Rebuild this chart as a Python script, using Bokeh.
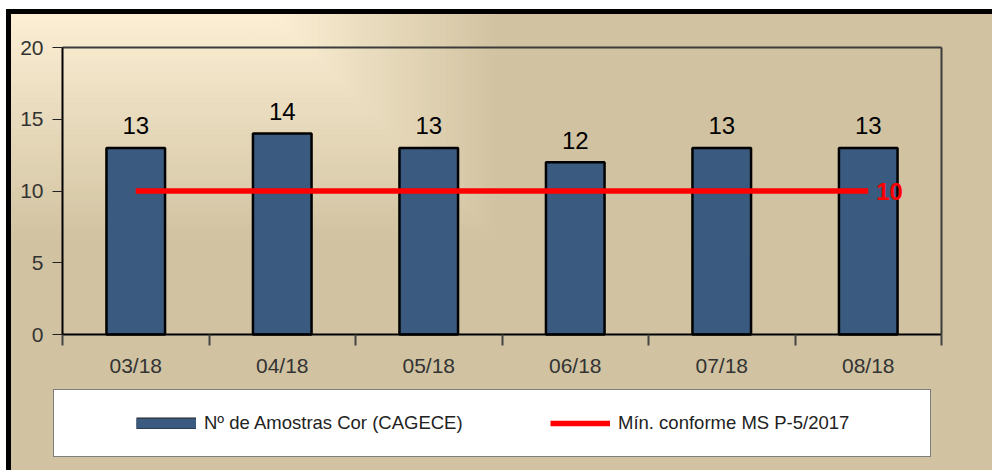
from bokeh.plotting import figure
from bokeh.models import Range1d, FixedTicker, Legend, LegendItem, LinearAxis
from bokeh.core.properties import value
from bokeh.embed import file_html
from bokeh.resources import INLINE

# ---- data ----
categories = ["03/18", "04/18", "05/18", "06/18", "07/18", "08/18"]
amostras = [13, 14, 13, 12, 13, 13]
minimo = [10, 10, 10, 10, 10, 10]
y_ticks = [0, 5, 10, 15, 20]
serie_bar = "Nº de Amostras Cor (CAGECE)"
serie_line = "Mín. conforme MS P-5/2017"

FONT = "Liberation Sans"
BAR = "#3B5A80"
FRAME = "#3c3c3c"

n = len(categories)
ymax = y_ticks[-1]
x = [i + 0.5 for i in range(n)]
bounds = list(range(n + 1))

# ---- layout geometry (canvas 986x461, plot area 51..930 x 33..320) ----
W, H = 986, 461
PL, PR, PT, PB = 51, 930, 33, 320
sx = (PR - PL) / n
sy = (PB - PT) / ymax
x_range = Range1d(-PL / sx, n + (W - PR) / sx)
y_range = Range1d(-(H - PB) / sy, ymax + PT / sy)

# ---- stepped rectangular background gradient (corner fill) ----
CREAM = (251, 238, 211)
TAN = (209, 195, 161)
STEPS = 36
layers = []
for k in range(1, STEPS + 1):
    t = k / STEPS
    hh = 230 * t
    ww = 262 + hh
    f = (k - 1) / (STEPS - 1)
    c = tuple(round(a + (b - a) * f) for a, b in zip(CREAM, TAN))
    col = f"rgb({c[0]},{c[1]},{c[2]})"
    layers.append(f"linear-gradient({col}, {col}) 0 0 / {ww:.1f}px {hh:.1f}px no-repeat")
background = ", ".join(layers) + ", rgb(209,195,161)"

p = figure(width=W, height=H, output_backend="svg", toolbar_location=None,
           x_range=x_range, y_range=y_range, min_border=0)
p.background_fill_alpha = 0
p.border_fill_alpha = 0
p.outline_line_color = None
p.styles = {
    "background": background,
    "border-top": "5px solid black",
    "border-left": "5px solid black",
    "margin-top": "9px",
    "margin-left": "6px",
}
p.xgrid.visible = False
p.ygrid.visible = False

# x axis: labels at centres, ticks at category boundaries
xa = p.xaxis[0]
xa.fixed_location = 0
xa.bounds = (0, n)
xa.ticker = FixedTicker(ticks=x, minor_ticks=bounds)
xa.major_label_overrides = {xi: c for xi, c in zip(x, categories)}
xa.major_tick_line_color = None
xa.major_tick_out = 0
xa.major_tick_in = 0
xa.minor_tick_out = 11
xa.minor_tick_in = 0
xa.minor_tick_line_color = "#444444"
xa.minor_tick_line_width = 2
xa.major_label_standoff = 8

ya = p.yaxis[0]
ya.fixed_location = 0
ya.bounds = (0, ymax)
ya.ticker = FixedTicker(ticks=y_ticks, minor_ticks=[])
ya.major_tick_out = 10
ya.major_tick_in = 0
ya.major_tick_line_color = "#222222"
ya.major_tick_line_width = 1
ya.major_label_standoff = 9

for ax in (xa, ya):
    ax.axis_line_color = "black"
    ax.axis_line_width = 2
    ax.major_label_text_font = FONT
    ax.major_label_text_font_size = "21px"
    ax.major_label_text_color = "#333333"

# frame lines on top and right
top_ax = LinearAxis(fixed_location=ymax, bounds=(0, n), ticker=FixedTicker(ticks=[], minor_ticks=[]),
                    axis_line_color=FRAME, axis_line_width=2,
                    major_tick_line_color=None, minor_tick_line_color=None)
right_ax = LinearAxis(fixed_location=n, bounds=(0, ymax), ticker=FixedTicker(ticks=[], minor_ticks=[]),
                      axis_line_color=FRAME, axis_line_width=2,
                      major_tick_line_color=None, minor_tick_line_color=None)
p.add_layout(top_ax, "above")
p.add_layout(right_ax, "right")

bars = p.vbar(x=x, top=amostras, width=0.4, fill_color=BAR,
              line_color="black", line_width=2.5)

p.text(x=x, y=amostras, text=[str(v) for v in amostras], text_align="center",
       text_baseline="alphabetic", y_offset=-22, text_font=value(FONT),
       text_font_size="24px", text_color="black")

line_r = p.line(x, minimo, line_color="#FF0000", line_width=5.5)
p.text(x=[x[-1]], y=[minimo[-1]], text=[str(minimo[-1])], x_offset=8,
       text_baseline="middle", text_align="left", text_font=value(FONT),
       text_font_style="bold", text_font_size="24px", text_color="#FF0000")

# legend proxies for the bar swatch (NaN values: nothing drawn in the plot)
nan_vals = [float("nan")] * n
sw_border = p.line(x, nan_vals, line_color="#222222", line_width=12)
sw_fill = p.line(x, nan_vals, line_color=BAR, line_width=10)

legend = Legend(
    items=[LegendItem(label=serie_bar, renderers=[sw_border, sw_fill]),
           LegendItem(label=serie_line, renderers=[line_r])],
    orientation="horizontal", location=(42, 18), margin=0,
    glyph_width=60, glyph_height=12, label_standoff=8, label_width=290,
    spacing=56, padding=22,
    border_line_color="black", border_line_width=1,
    background_fill_color="white", background_fill_alpha=1,
    label_text_font=FONT, label_text_font_size="18.5px", label_text_color="#222222",
    title="\u00a0", title_location="left", title_standoff=59,
    title_text_font_size="1px",
)
p.add_layout(legend, "center")

open("out.html", "w").write(file_html(p, INLINE))
